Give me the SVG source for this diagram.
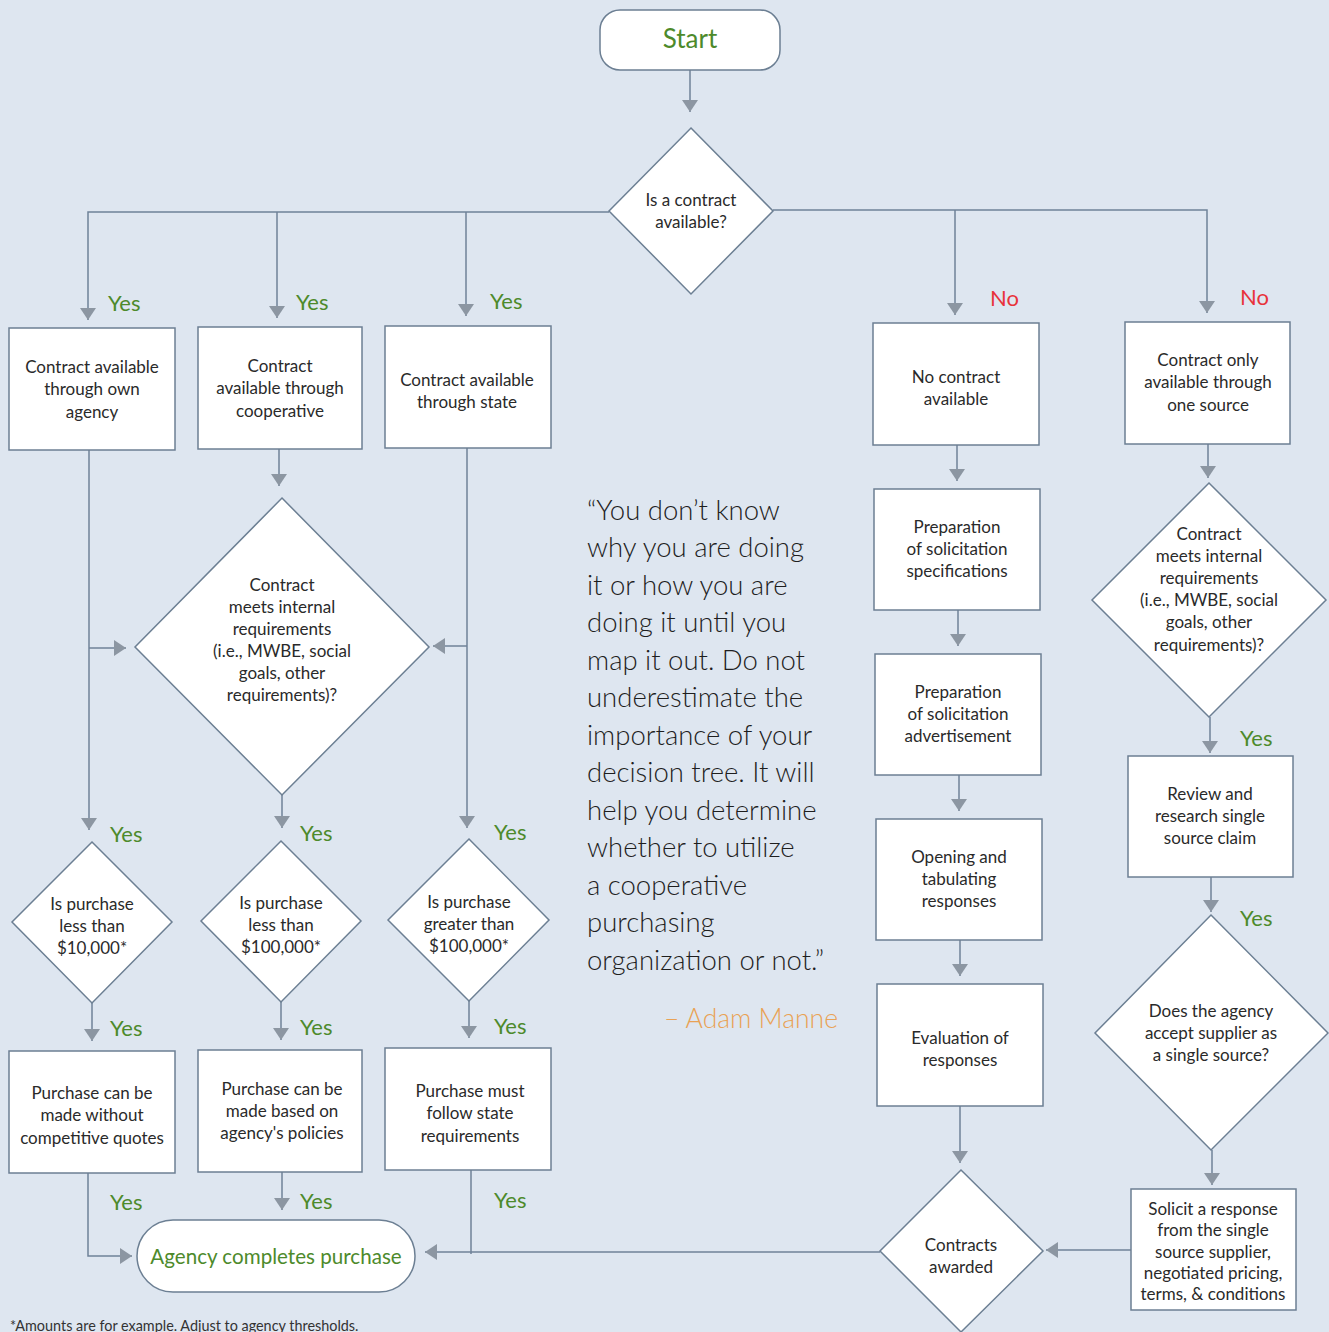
<svg xmlns="http://www.w3.org/2000/svg" width="1329" height="1332" viewBox="0 0 1329 1332">
<defs>
<marker id="ah" viewBox="0 0 12 16" refX="12" refY="8" markerWidth="12" markerHeight="16" markerUnits="userSpaceOnUse" orient="auto">
<path d="M0,0 L12,8 L0,16 z" fill="#8c96a2"/>
</marker>
<style>
.bx{fill:#fff;stroke:#6c7f93;stroke-width:1.5}
.t{font-family:Lato,"Liberation Sans",sans-serif;font-size:17px;fill:#2a2a2a;text-anchor:middle}
.g{font-family:Lato,"Liberation Sans",sans-serif;font-size:22px;fill:#4d8a2b}
.r{font-family:Lato,"Liberation Sans",sans-serif;font-size:22px;fill:#e8333b}
.c{fill:none;stroke:#6f8298;stroke-width:1.5}
.q{font-family:Lato,"Liberation Sans",sans-serif;font-size:27.5px;font-weight:300;fill:#1e1e1e}
</style>
</defs>
<rect width="1329" height="1332" fill="#dee6f0"/>

<g id="connectors">
<path class="c" d="M690,70 V112" marker-end="url(#ah)"/>
<path class="c" d="M609,212 H88 V320" marker-end="url(#ah)"/>
<path class="c" d="M277,212 V318" marker-end="url(#ah)"/>
<path class="c" d="M466,212 V316" marker-end="url(#ah)"/>
<path class="c" d="M773,210 H1207 V313" marker-end="url(#ah)"/>
<path class="c" d="M955,210 V315" marker-end="url(#ah)"/>
<path class="c" d="M89,450 V830" marker-end="url(#ah)"/>
<path class="c" d="M89,648 H126" marker-end="url(#ah)"/>
<path class="c" d="M467,448 V828" marker-end="url(#ah)"/>
<path class="c" d="M467,646 H433" marker-end="url(#ah)"/>
<path class="c" d="M279,449 V486" marker-end="url(#ah)"/>
<path class="c" d="M282,795 V828" marker-end="url(#ah)"/>
<path class="c" d="M92,1003 V1041" marker-end="url(#ah)"/>
<path class="c" d="M281,1002 V1040" marker-end="url(#ah)"/>
<path class="c" d="M469,1001 V1038" marker-end="url(#ah)"/>
<path class="c" d="M88,1173 V1256 H132" marker-end="url(#ah)"/>
<path class="c" d="M282,1172 V1210" marker-end="url(#ah)"/>
<path class="c" d="M471,1170 V1254"/>
<path class="c" d="M880,1252 H425" marker-end="url(#ah)"/>
<path class="c" d="M957,445 V481" marker-end="url(#ah)"/>
<path class="c" d="M958,610 V646" marker-end="url(#ah)"/>
<path class="c" d="M959,775 V811" marker-end="url(#ah)"/>
<path class="c" d="M960,940 V976" marker-end="url(#ah)"/>
<path class="c" d="M960,1106 V1163" marker-end="url(#ah)"/>
<path class="c" d="M1208,444 V478" marker-end="url(#ah)"/>
<path class="c" d="M1210,717 V753" marker-end="url(#ah)"/>
<path class="c" d="M1211,877 V912" marker-end="url(#ah)"/>
<path class="c" d="M1212,1150 V1185" marker-end="url(#ah)"/>
<path class="c" d="M1131,1250 H1046" marker-end="url(#ah)"/>
</g>

<g id="labels">
<text class="g" x="108" y="311">Yes</text>
<text class="g" x="296" y="310">Yes</text>
<text class="g" x="490" y="309">Yes</text>
<text class="r" x="990" y="306">No</text>
<text class="r" x="1240" y="305">No</text>
<text class="g" x="110" y="842">Yes</text>
<text class="g" x="300" y="841">Yes</text>
<text class="g" x="494" y="840">Yes</text>
<text class="g" x="110" y="1036">Yes</text>
<text class="g" x="300" y="1035">Yes</text>
<text class="g" x="494" y="1034">Yes</text>
<text class="g" x="110" y="1210">Yes</text>
<text class="g" x="300" y="1209">Yes</text>
<text class="g" x="494" y="1208">Yes</text>
<text class="g" x="1240" y="746">Yes</text>
<text class="g" x="1240" y="926">Yes</text>
</g>

<g id="start">
<rect class="bx" x="600" y="10" width="180" height="60" rx="20"/>
<text x="690" y="48" text-anchor="middle" font-family="Lato,'Liberation Sans',sans-serif" font-size="26" fill="#4d8a2b">Start</text>
</g>

<g id="q-contract">
<polygon class="bx" points="691,128 773,211 691,294 609,211"/>
<text class="t" x="691" y="206">Is a contract</text>
<text class="t" x="691" y="228">available?</text>
</g>

<g id="own-agency">
<rect class="bx" x="9" y="328" width="166" height="122"/>
<text class="t" x="92" y="373">Contract available</text>
<text class="t" x="92" y="395">through own</text>
<text class="t" x="92" y="418">agency</text>
</g>

<g id="cooperative">
<rect class="bx" x="198" y="327" width="164" height="122"/>
<text class="t" x="280" y="372">Contract</text>
<text class="t" x="280" y="394">available through</text>
<text class="t" x="280" y="417">cooperative</text>
</g>

<g id="state">
<rect class="bx" x="385" y="326" width="166" height="122"/>
<text class="t" x="467" y="386">Contract available</text>
<text class="t" x="467" y="408">through state</text>
</g>

<g id="q-internal-left">
<polygon class="bx" points="282,498 429,647 282,795 135,647"/>
<text class="t" x="282" y="591">Contract</text>
<text class="t" x="282" y="613">meets internal</text>
<text class="t" x="282" y="635">requirements</text>
<text class="t" x="282" y="657">(i.e., MWBE, social</text>
<text class="t" x="282" y="679">goals, other</text>
<text class="t" x="282" y="701">requirements)?</text>
</g>

<g id="q-10000">
<polygon class="bx" points="92,842 172,922 92,1003 12,922"/>
<text class="t" x="92" y="910">Is purchase</text>
<text class="t" x="92" y="932">less than</text>
<text class="t" x="92" y="954">$10,000*</text>
</g>

<g id="q-100000-less">
<polygon class="bx" points="281,841 361,921 281,1002 201,921"/>
<text class="t" x="281" y="909">Is purchase</text>
<text class="t" x="281" y="931">less than</text>
<text class="t" x="281" y="953">$100,000*</text>
</g>

<g id="q-100000-greater">
<polygon class="bx" points="469,839 549,920 469,1001 388,920"/>
<text class="t" x="469" y="908">Is purchase</text>
<text class="t" x="469" y="930">greater than</text>
<text class="t" x="469" y="952">$100,000*</text>
</g>

<g id="no-quotes">
<rect class="bx" x="9" y="1051" width="166" height="122"/>
<text class="t" x="92" y="1099">Purchase can be</text>
<text class="t" x="92" y="1121">made without</text>
<text class="t" x="92" y="1144">competitive quotes</text>
</g>

<g id="agency-policies">
<rect class="bx" x="198" y="1050" width="164" height="122"/>
<text class="t" x="282" y="1095">Purchase can be</text>
<text class="t" x="282" y="1117">made based on</text>
<text class="t" x="282" y="1139">agency's policies</text>
</g>

<g id="state-req">
<rect class="bx" x="385" y="1048" width="166" height="122"/>
<text class="t" x="470" y="1097">Purchase must</text>
<text class="t" x="470" y="1119">follow state</text>
<text class="t" x="470" y="1142">requirements</text>
</g>

<g id="agency-completes">
<rect class="bx" x="137" y="1220" width="278" height="72" rx="36"/>
<text x="276" y="1264" text-anchor="middle" font-family="Lato,'Liberation Sans',sans-serif" font-size="20.6" fill="#4d8a2b">Agency completes purchase</text>
</g>

<g id="no-contract">
<rect class="bx" x="873" y="323" width="166" height="122"/>
<text class="t" x="956" y="383">No contract</text>
<text class="t" x="956" y="405">available</text>
</g>

<g id="prep-spec">
<rect class="bx" x="874" y="489" width="166" height="121"/>
<text class="t" x="957" y="533">Preparation</text>
<text class="t" x="957" y="555">of solicitation</text>
<text class="t" x="957" y="577">specifications</text>
</g>

<g id="prep-ad">
<rect class="bx" x="875" y="654" width="166" height="121"/>
<text class="t" x="958" y="698">Preparation</text>
<text class="t" x="958" y="720">of solicitation</text>
<text class="t" x="958" y="742">advertisement</text>
</g>

<g id="opening">
<rect class="bx" x="876" y="819" width="166" height="121"/>
<text class="t" x="959" y="863">Opening and</text>
<text class="t" x="959" y="885">tabulating</text>
<text class="t" x="959" y="907">responses</text>
</g>

<g id="evaluation">
<rect class="bx" x="877" y="984" width="166" height="122"/>
<text class="t" x="960" y="1044">Evaluation of</text>
<text class="t" x="960" y="1066">responses</text>
</g>

<g id="contracts-awarded">
<polygon class="bx" points="961,1170 1043,1251 961,1332 880,1251"/>
<text class="t" x="961" y="1251">Contracts</text>
<text class="t" x="961" y="1273">awarded</text>
</g>

<g id="one-source">
<rect class="bx" x="1125" y="322" width="165" height="122"/>
<text class="t" x="1208" y="366">Contract only</text>
<text class="t" x="1208" y="388">available through</text>
<text class="t" x="1208" y="411">one source</text>
</g>

<g id="q-internal-right">
<polygon class="bx" points="1209,483 1326,600 1209,717 1092,600"/>
<text class="t" x="1209" y="540">Contract</text>
<text class="t" x="1209" y="562">meets internal</text>
<text class="t" x="1209" y="584">requirements</text>
<text class="t" x="1209" y="606">(i.e., MWBE, social</text>
<text class="t" x="1209" y="628">goals, other</text>
<text class="t" x="1209" y="651">requirements)?</text>
</g>

<g id="review">
<rect class="bx" x="1128" y="756" width="165" height="121"/>
<text class="t" x="1210" y="800">Review and</text>
<text class="t" x="1210" y="822">research single</text>
<text class="t" x="1210" y="844">source claim</text>
</g>

<g id="q-single-source">
<polygon class="bx" points="1211,915 1328,1033 1211,1150 1095,1033"/>
<text class="t" x="1211" y="1017">Does the agency</text>
<text class="t" x="1211" y="1039">accept supplier as</text>
<text class="t" x="1211" y="1061">a single source?</text>
</g>

<g id="solicit">
<rect class="bx" x="1131" y="1189" width="165" height="121"/>
<text class="t" x="1213" y="1215">Solicit a response</text>
<text class="t" x="1213" y="1236">from the single</text>
<text class="t" x="1213" y="1258">source supplier,</text>
<text class="t" x="1213" y="1279">negotiated pricing,</text>
<text class="t" x="1213" y="1300">terms, &amp; conditions</text>
</g>

<g id="quote">
<text class="q" x="587" y="520">“You don’t know</text>
<text class="q" x="587" y="557">why you are doing</text>
<text class="q" x="587" y="595">it or how you are</text>
<text class="q" x="587" y="632">doing it until you</text>
<text class="q" x="587" y="670">map it out. Do not</text>
<text class="q" x="587" y="707">underestimate the</text>
<text class="q" x="587" y="745">importance of your</text>
<text class="q" x="587" y="782">decision tree. It will</text>
<text class="q" x="587" y="820">help you determine</text>
<text class="q" x="587" y="857">whether to utilize</text>
<text class="q" x="587" y="895">a cooperative</text>
<text class="q" x="587" y="932">purchasing</text>
<text class="q" x="587" y="970">organization or not.”</text>
<text x="838" y="1028" text-anchor="end" font-family="Lato,'Liberation Sans',sans-serif" font-size="26.5" font-weight="300" fill="#e9a255">– Adam Manne</text>
</g>

<text x="10" y="1331" font-family="Lato,'Liberation Sans',sans-serif" font-size="14.4" fill="#333">*Amounts are for example. Adjust to agency thresholds.</text>
</svg>
